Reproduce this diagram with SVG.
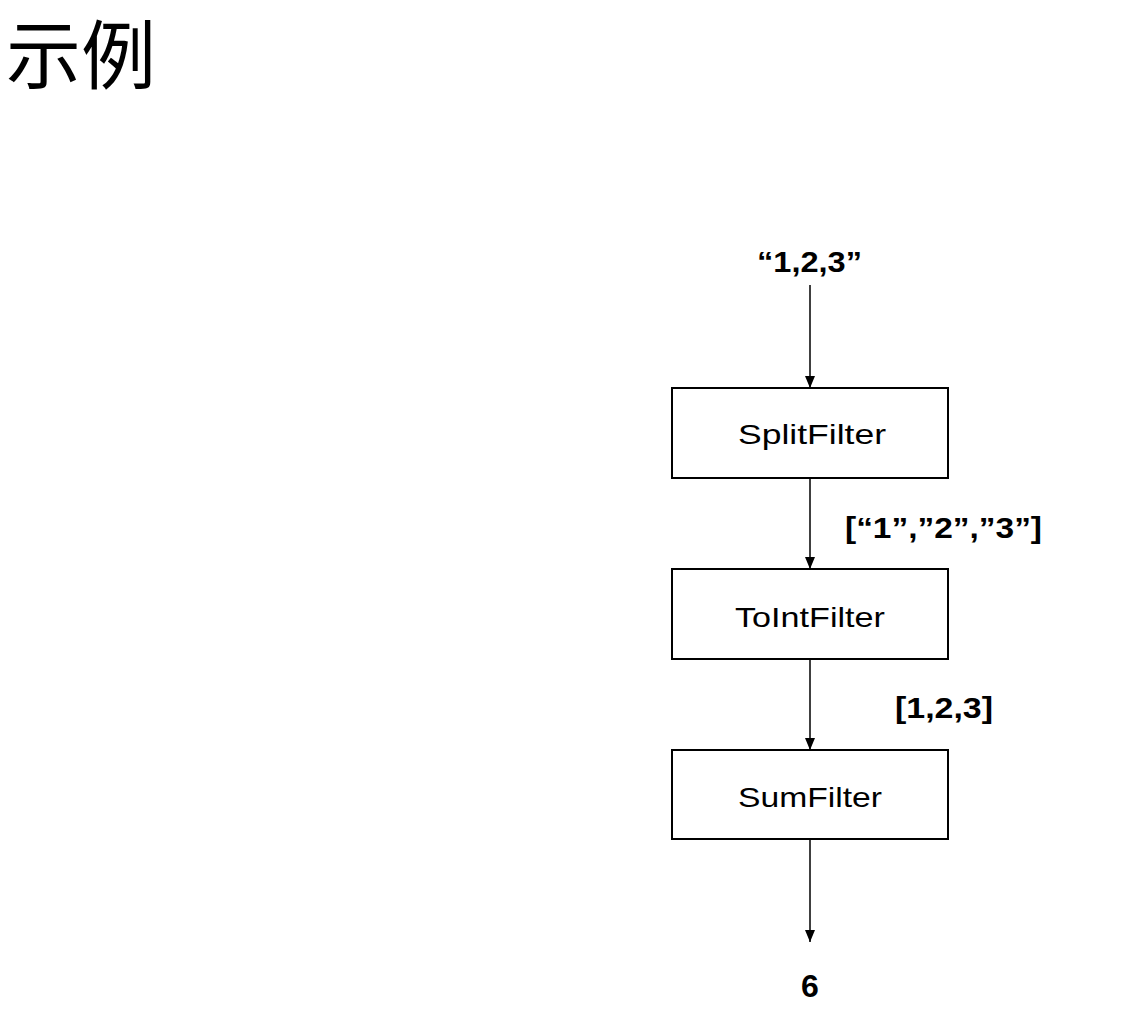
<svg xmlns="http://www.w3.org/2000/svg" width="1129" height="1018" viewBox="0 0 1129 1018">
<style>
.box{fill:#fff;stroke:#000;stroke-width:2}
.nt{font-family:"Liberation Sans",Arial,sans-serif;font-size:28px;fill:#000;text-anchor:middle}
.lb{font-family:"Liberation Sans",Arial,sans-serif;font-size:30px;font-weight:bold;fill:#000}
.edge{stroke:#000;stroke-width:1.5;fill:none;marker-end:url(#ah)}
.title{font-family:"Noto Sans CJK SC","Noto Sans CJK JP",sans-serif;font-size:75px;fill:#000}
</style>
<defs>
<marker id="ah" markerWidth="12" markerHeight="10" refX="12" refY="5" orient="auto" markerUnits="userSpaceOnUse" viewBox="0 0 12 10">
<path d="M0,0 L12,5 L0,10 Z" fill="#000"/>
</marker>
</defs>
<rect width="1129" height="1018" fill="#fff"/>
<text class="title" x="6" y="83">示例</text>
<g id="connectors">
<line class="edge" x1="810" y1="285" x2="810" y2="388"/>
<line class="edge" x1="810" y1="478" x2="810" y2="569"/>
<line class="edge" x1="810" y1="659" x2="810" y2="750"/>
<line class="edge" x1="810" y1="839" x2="810" y2="942"/>
</g>
<g id="input">
<text class="lb" x="757" y="272" textLength="105" lengthAdjust="spacingAndGlyphs">“1,2,3”</text>
</g>
<g id="splitfilter">
<rect class="box" x="672" y="388" width="276" height="90"/>
<text class="nt" x="812" y="444" textLength="148" lengthAdjust="spacingAndGlyphs">SplitFilter</text>
</g>
<g id="label-strings">
<text class="lb" x="845" y="538" textLength="197" lengthAdjust="spacingAndGlyphs">[“1”,”2”,”3”]</text>
</g>
<g id="tointfilter">
<rect class="box" x="672" y="569" width="276" height="90"/>
<text class="nt" x="810" y="627" textLength="150" lengthAdjust="spacingAndGlyphs">ToIntFilter</text>
</g>
<g id="label-ints">
<text class="lb" x="895" y="718" textLength="98" lengthAdjust="spacingAndGlyphs">[1,2,3]</text>
</g>
<g id="sumfilter">
<rect class="box" x="672" y="750" width="276" height="89"/>
<text class="nt" x="810" y="807" textLength="144" lengthAdjust="spacingAndGlyphs">SumFilter</text>
</g>
<g id="output">
<text class="lb" x="810" y="997" text-anchor="middle" style="font-size:32px">6</text>
</g>
</svg>
